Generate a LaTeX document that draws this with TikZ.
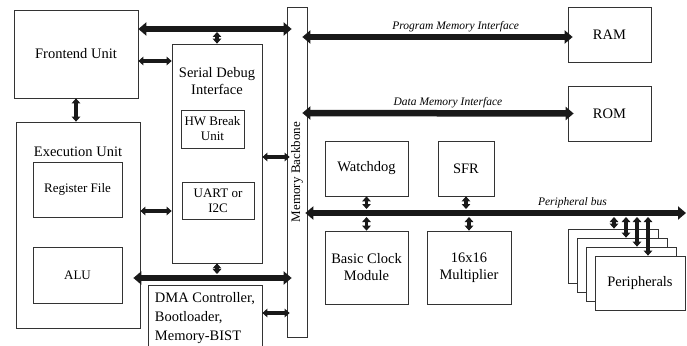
\documentclass[tikz,border=0pt]{standalone}
\usepackage{fontspec}
\setmainfont{Liberation Serif}
\usetikzlibrary{arrows.meta}

\tikzset{
	blk/.style={draw=black!80, line width=0.7pt, fill=white, inner sep=1pt, align=center, font=\fontsize{14.5}{17}\selectfont},
	sub/.style={blk, font=\fontsize{13}{15}\selectfont},
	txt/.style={inner sep=0pt, align=center, font=\fontsize{14.5}{17}\selectfont},
	bus/.style={draw=black!90, line width=6.5pt, {Triangle[width=13pt,length=8pt]}-{Triangle[width=13pt,length=8pt]}},
	link/.style={draw=black!90, line width=3.5pt, {Triangle[width=8.5pt,length=5pt]}-{Triangle[width=8.5pt,length=5pt]}},
	busname/.style={inner sep=1pt, font=\fontsize{11.5}{13}\selectfont\itshape},
}

\begin{document}
\begin{tikzpicture}[x=1pt, y=-1pt]
\useasboundingbox (0,0) rectangle (687,345);

% core side
\node[blk, minimum width=124pt, minimum height=88pt]  (fe)  at (76,54)   {Frontend Unit};
\node[blk, minimum width=124pt, minimum height=206pt] (exu) at (78,225)  {};
\node[txt] (exutxt) at (78,152) {Execution Unit};
\node[sub, minimum width=89pt, minimum height=55pt]   (rf)  at (77.5,189.5) {Register File};
\node[sub, minimum width=89pt, minimum height=56pt]   (alu) at (77.5,275)   {ALU};

\node[blk, minimum width=90pt, minimum height=219pt]  (sdi) at (217,153.5) {};
\node[txt] (sditxt) at (217,81) {Serial Debug\\Interface};
\node[sub, minimum width=63pt, minimum height=38pt]   (hwb)  at (212.5,129) {HW Break\\Unit};
\node[sub, minimum width=72pt, minimum height=37pt]   (uart) at (218,200.5) {UART or\\I2C};
\node[blk, minimum width=114pt, minimum height=66pt, align=left, font=\fontsize{14.5}{19}\selectfont] (dma) at (205,318)
	{DMA Controller,\\Bootloader,\\Memory-BIST};

% backbone
\node[blk, minimum width=20pt, minimum height=330pt] (mb) at (297,172) {};
\node[rotate=90, inner sep=0pt, font=\fontsize{13}{15}\selectfont] (mbtxt) at (mb) {Memory Backbone};

% memories and peripherals
\node[blk, minimum width=83pt, minimum height=55pt] (ram) at (609.5,34.5)  {RAM};
\node[blk, minimum width=83pt, minimum height=55pt] (rom) at (609.5,113.5) {ROM};
\node[blk, minimum width=83pt, minimum height=55pt] (wd)  at (366.5,168.5) {Watchdog};
\node[blk, minimum width=56pt, minimum height=55pt] (sfr) at (466,168.5)   {SFR};
\node[blk, minimum width=83pt, minimum height=73pt] (bcm) at (366.5,267.5) {Basic Clock\\Module};
\node[blk, minimum width=84pt, minimum height=73pt] (mul) at (469,267.5)   {16x16\\Multiplier};
\foreach \i/\t in {1/,2/,3/,4/Peripherals}
	\node[blk, minimum width=90pt, minimum height=54pt] (p\i) at ({613+9*(\i-1)},{256+9*(\i-1)}) {\t};

% buses
\draw[bus, shorten >=-5pt] (fe.east |- 0,29) -- (mb.west |- 0,29);
\draw[bus, shorten <=-7pt, shorten >=-5pt] (exu.east |- 0,278) -- (mb.west |- 0,278);
\draw[bus, shorten <=-5pt, shorten >=-5pt] (mb.east |- 0,37) -- node[busname, above=1pt, pos=0.57] {Program Memory Interface} (ram.west |- 0,37);
\draw[bus, shorten <=-5pt, shorten >=-6pt] (mb.east |- 0,113) -- node[busname, above=1pt, pos=0.54] {Data Memory Interface} (rom.west);
\coordinate (pbend) at (686,213);
\draw[bus, shorten <=-2pt] (mb.east |- pbend) -- node[busname, above=1pt, pos=0.70] {Peripheral bus} (pbend);

% links
\draw[link] (sdi.north) -- (sdi.north |- 0,32);
\draw[link] (fe.east |- 0,61) -- (sdi.west |- 0,61);
\draw[link] (fe.south) -- (exu.north -| fe.south);
\draw[link, shorten >=-3pt] (sdi.east |- 0,157) -- (mb.west |- 0,157);
\draw[link] (exu.east |- 0,211) -- (sdi.west |- 0,211);
\draw[link] (sdi.south) -- (sdi.south |- 0,274);
\draw[link, shorten >=-3pt] (dma.east |- 0,313) -- (mb.west |- 0,313);

\draw[link] (wd.south) -- (wd.south |- 0,209);
\draw[link] (bcm.north |- 0,217) -- (bcm.north);
\draw[link] (sfr.south) -- (sfr.south |- 0,209);
\draw[link] (mul.north |- 0,217) -- (mul.north);
\foreach \i/\x in {1/614,2/626,3/637,4/648}
	\draw[link] (\x,217) -- (p\i.north -| \x,0);

\end{tikzpicture}
\end{document}
